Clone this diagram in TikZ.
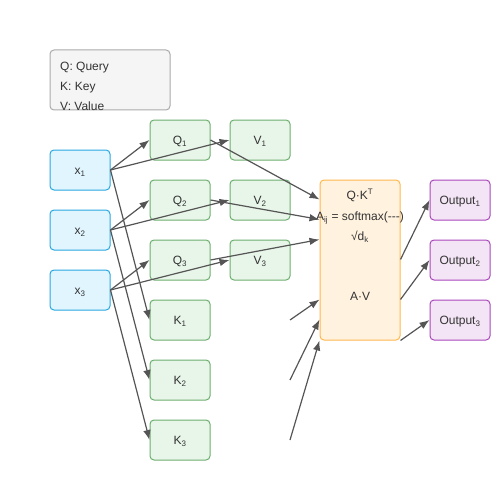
\documentclass[tikz,border=0pt]{standalone}
\usepackage{fontspec}
\setmainfont{Liberation Sans}
\usetikzlibrary{arrows.meta,calc}

\definecolor{inkgray}{HTML}{333333}
\definecolor{arrowgray}{HTML}{555555}
\definecolor{legfill}{HTML}{F5F5F5}
\definecolor{legdraw}{HTML}{AAAAAA}
\definecolor{infill}{HTML}{E1F5FE}
\definecolor{indraw}{HTML}{29A8E0}
\definecolor{qkvfill}{HTML}{E8F5E9}
\definecolor{qkvdraw}{HTML}{6DAF6F}
\definecolor{attfill}{HTML}{FFF3E0}
\definecolor{attdraw}{HTML}{FFB74D}
\definecolor{outfill}{HTML}{F3E5F5}
\definecolor{outdraw}{HTML}{AB47BC}

\begin{document}
\begin{tikzpicture}[x=1pt,y=-1pt,
    box/.style={draw, rounded corners=4pt, line width=1pt, minimum width=60pt, minimum height=40pt, inner sep=0pt, text height=8.5pt, text depth=0pt, text=inkgray, font=\fontsize{12}{14}\selectfont},
    inbox/.style={box, draw=indraw, fill=infill},
    qkvbox/.style={box, draw=qkvdraw, fill=qkvfill},
    outbox/.style={box, draw=outdraw, fill=outfill},
    txt/.style={text=inkgray, inner sep=0pt, text height=8.5pt, text depth=0pt, font=\fontsize{12}{14}\selectfont},
    link/.style={-{Latex[length=10pt,width=7.5pt]}, draw=arrowgray, line width=1.2pt}]
    \useasboundingbox (0,0) rectangle (500,500);
    % legend
    \node[box, draw=legdraw, fill=legfill, minimum width=120pt, minimum height=60pt] (legend) at (110,80) {};
    \node[txt, anchor=west] (legq) at (60,66) {Q: Query};
    \node[txt, anchor=west] (legk) at (60,86) {K: Key};
    \node[txt, anchor=west] (legv) at (60,106) {V: Value};
    % inputs
    \node[inbox] (x1) at (80,170) {x\textsubscript{1}};
    \node[inbox] (x2) at (80,230) {x\textsubscript{2}};
    \node[inbox] (x3) at (80,290) {x\textsubscript{3}};
    % queries, values, keys
    \node[qkvbox] (q1) at (180,140) {Q\textsubscript{1}};
    \node[qkvbox] (q2) at (180,200) {Q\textsubscript{2}};
    \node[qkvbox] (q3) at (180,260) {Q\textsubscript{3}};
    \node[qkvbox] (v1) at (260,140) {V\textsubscript{1}};
    \node[qkvbox] (v2) at (260,200) {V\textsubscript{2}};
    \node[qkvbox] (v3) at (260,260) {V\textsubscript{3}};
    \node[qkvbox] (k1) at (180,320) {K\textsubscript{1}};
    \node[qkvbox] (k2) at (180,380) {K\textsubscript{2}};
    \node[qkvbox] (k3) at (180,440) {K\textsubscript{3}};
    % attention
    \node[box, draw=attdraw, fill=attfill, minimum width=80pt, minimum height=160pt] (attn) at (360,260) {};
    \node[txt] (qkt) at (360,195) {Q·K\textsuperscript{T}};
    \node[txt] (soft) at (360,216) {A\textsubscript{ij} = softmax({-}{-}{-})};
    \node[txt] (sqrtd) at (360,236) {√d\textsubscript{k}};
    \node[txt] (av) at (360,296) {A·V};
    % outputs
    \node[outbox] (o1) at (460,200) {Output\textsubscript{1}};
    \node[outbox] (o2) at (460,260) {Output\textsubscript{2}};
    \node[outbox] (o3) at (460,320) {Output\textsubscript{3}};
    \coordinate (kt1) at (290,320);
    \coordinate (kt2) at (290,380);
    \coordinate (kt3) at (290,440);

    \draw[link] (x1.east) -- (q1.west);
    \draw[link] (x1.east) -- (v1.west);
    \draw[link] (x1.east) -- (k1.west);
    \draw[link] (x2.east) -- (q2.west);
    \draw[link] (x2.east) -- (v2.west);
    \draw[link] (x2.east) -- (k2.west);
    \draw[link] (x3.east) -- (q3.west);
    \draw[link] (x3.east) -- (v3.west);
    \draw[link] (x3.east) -- (k3.west);
    \draw[link] (q1.east) -- ($(attn.north west)+(0,20)$);
    \draw[link] (q2.east) -- ($(attn.north west)+(0,40)$);
    \draw[link] (q3.east) -- ($(attn.north west)+(0,60)$);
    \draw[link] (kt1) -- ($(attn.north west)+(0,120)$);
    \draw[link] (kt2) -- ($(attn.north west)+(0,140)$);
    \draw[link] (kt3) -- (attn.south west);
    \draw[link] ($(attn.north east)+(0,80)$) -- (o1.west);
    \draw[link] ($(attn.north east)+(0,120)$) -- (o2.west);
    \draw[link] (attn.south east) -- (o3.west);
\end{tikzpicture}
\end{document}
